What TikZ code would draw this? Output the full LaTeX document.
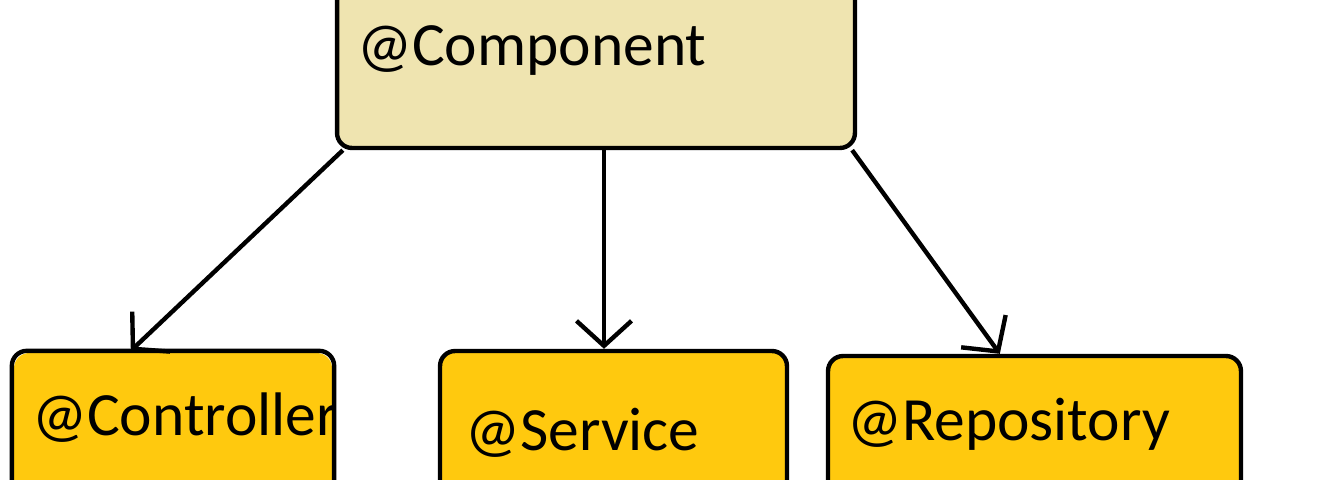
\documentclass[tikz,border=0pt]{standalone}
\usepackage{fontspec}
\setmainfont{Carlito}
\usetikzlibrary{arrows.meta,calc}
\definecolor{khaki}{HTML}{EFE4B0}
\definecolor{gold}{HTML}{FFC90E}

\begin{document}
\begin{tikzpicture}[x=0.02cm,y=-0.02cm,line width=2.5pt,>={Straight Barb[length=0.5cm,width=1.1cm]},
  box/.style={rectangle,draw,rounded corners=0.3cm,inner sep=0,line width=2.5pt},
  lbl/.style={anchor=base west,inner sep=0,font=\fontsize{35}{42}\selectfont}]
\useasboundingbox (0,0) rectangle (1340,480);
\clip (0,0) rectangle (1340,480);
% ---------- top: the general annotation ----------
\node[box,fill=khaki,minimum width=10.36cm,minimum height=3.56cm] (comp) at (596,59) {};
\node[lbl] (comptext) at (355,65) {@Component};
% ---------- bottom: three specialisations ----------
\node[box,draw=none,fill=gold,minimum width=6.36cm,minimum height=4.94cm] (ctrl) at (173,476.5) {};
\node[box,fill=gold,minimum width=6.94cm,minimum height=4.98cm] (srv) at (613.5,475.5) {};
\node[box,fill=gold,minimum width=8.26cm,minimum height=4.88cm] (repo) at (1034.5,478) {};
\begin{scope}
\clip[rounded corners=0.3cm] (ctrl.south west) rectangle (ctrl.north east);
\node[lbl] (ctrltext) at (30,435) {@Controller};
\end{scope}
\draw[rounded corners=0.3cm] (ctrl.south west) rectangle (ctrl.north east);
\node[lbl] (srvtext) at (463,450) {@Service};
\node[lbl] (repotext) at (845,440) {@Repository};
% ---------- arrows ----------
\draw[->] ([xshift=0.16cm]comp.south west) -- ([xshift=2.38cm]ctrl.north west);
\draw[->] ([xshift=-0.19cm]srv.north |- comp.south) -- ([xshift=-0.19cm]srv.north);
\draw[->] ([xshift=-0.1cm]comp.south east) -- ([xshift=3.48cm]repo.north west);
\end{tikzpicture}
\end{document}
